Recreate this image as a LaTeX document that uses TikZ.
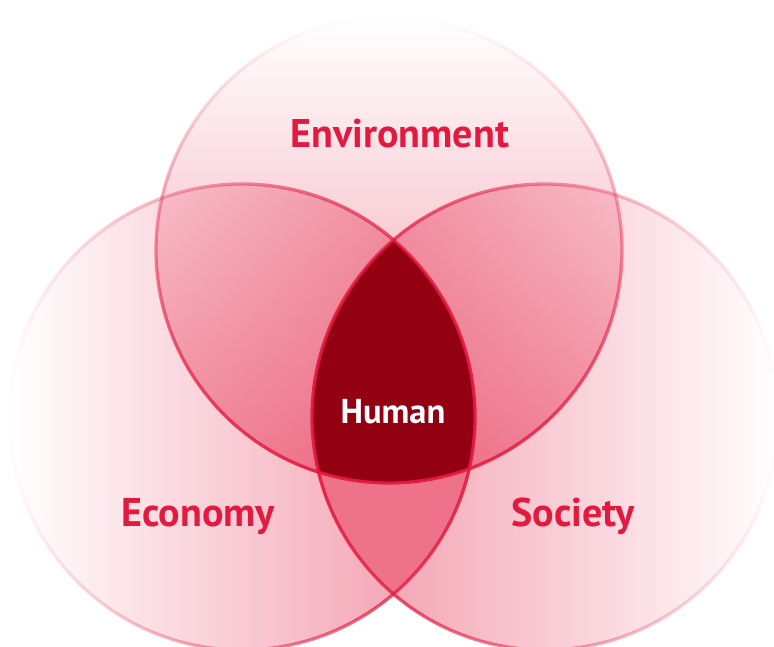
\documentclass[tikz,border=0pt]{standalone}
\usepackage{fontspec}
\setmainfont{PT Sans}
\usepackage{tikz}
\usetikzlibrary{
    fadings,
    positioning,
}
\definecolor{vennred}{RGB}{227,26,64}
\definecolor{humanred}{RGB}{147,0,17}
\tikzfading[name=fadedown, top color=transparent!100, bottom color=transparent!0]
\tikzfading[name=faderight, left color=transparent!100, right color=transparent!0]
\tikzfading[name=fadeleft, left color=transparent!0, right color=transparent!100]
\tikzstyle{disc}=[fill=vennred,fill opacity=0.46]
\tikzstyle{rim}=[draw=vennred,draw opacity=0.92,line width=3.3pt]
\tikzstyle{lbl}=[font=\fontsize{40}{40}\selectfont\bfseries,text=vennred,anchor=base,inner sep=0pt]

\begin{document}
\begin{tikzpicture}[x=1pt,y=-1pt]
    \useasboundingbox (0,0) rectangle (774,646);
    \coordinate (env) at (389,250);
    \coordinate (eco) at (242,417);
    \coordinate (soc) at (545,417);
    \foreach \c/\f in {env/fadedown,eco/faderight,soc/fadeleft}
        \fill[disc,path fading=\f] (\c) circle (233pt);
    \begin{scope}
        \clip (env) circle (233pt);
        \clip (eco) circle (233pt);
        \fill[humanred] (soc) circle (233pt);
    \end{scope}
    \foreach \c/\f in {env/fadedown,eco/faderight,soc/fadeleft}
        \draw[rim,path fading=\f] (\c) circle (233pt);
    \node[lbl] (envlabel) at (400,147) {Environment};
    \node[lbl] (ecolabel) at (198,526) {Economy};
    \node[lbl] (soclabel) at (573,526) {Society};
    \node[lbl,text=white,font=\fontsize{34.5}{34.5}\selectfont\bfseries] (humlabel) at (393,423) {Human};
\end{tikzpicture}
\end{document}
